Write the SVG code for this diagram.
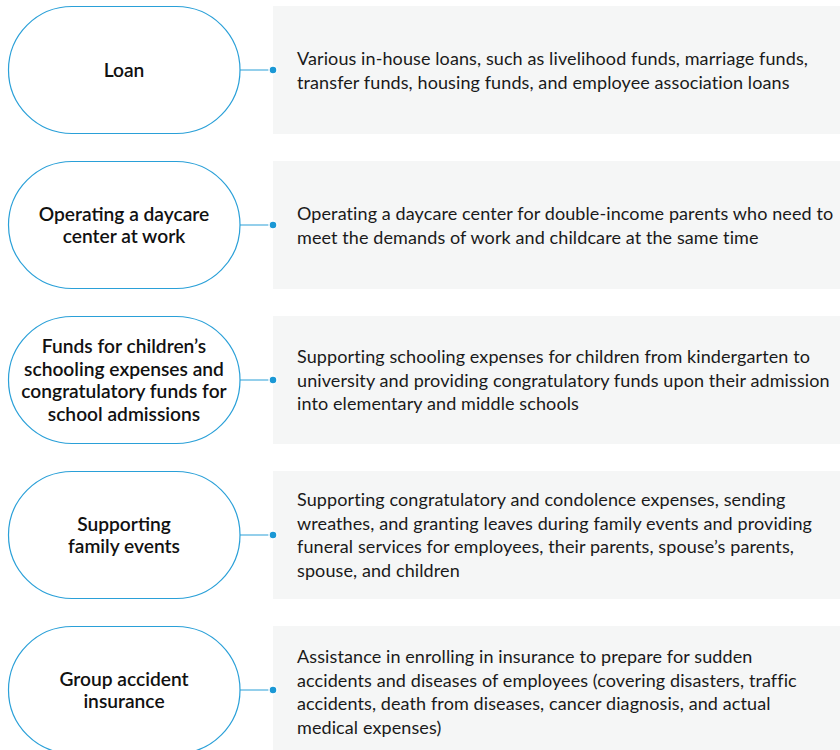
<svg xmlns="http://www.w3.org/2000/svg" width="840" height="750" viewBox="0 0 840 750">
<style>
.pill{fill:#fff;stroke:#2aa0d8;stroke-width:1.2}
.box{fill:#f5f6f6}
.lbl{font-family:Lato,"Noto Sans",sans-serif;font-size:19.2px;font-weight:600;fill:#111;text-anchor:middle}
.desc{font-family:Lato,"Noto Sans",sans-serif;font-size:18px;fill:#1a1a1a;letter-spacing:0.1px}
.conn{stroke:#2aa0d8;stroke-width:1.2;fill:none}
.dot{fill:#1a98d5;stroke:#fff;stroke-width:1.5}
</style>
<g id="boxes">
<rect class="box" x="273" y="6" width="567" height="128"/>
<rect class="box" x="273" y="161" width="567" height="128"/>
<rect class="box" x="273" y="316" width="567" height="128"/>
<rect class="box" x="273" y="471" width="567" height="128"/>
<rect class="box" x="273" y="626" width="567" height="124"/>
</g>
<g id="connectors">
<line class="conn" x1="240" y1="70" x2="273" y2="70"/>
<line class="conn" x1="240" y1="225" x2="273" y2="225"/>
<line class="conn" x1="240" y1="380" x2="273" y2="380"/>
<line class="conn" x1="240" y1="535" x2="273" y2="535"/>
<line class="conn" x1="240" y1="690" x2="273" y2="690"/>
<circle class="dot" cx="273" cy="70" r="4"/>
<circle class="dot" cx="273" cy="225" r="4"/>
<circle class="dot" cx="273" cy="380" r="4"/>
<circle class="dot" cx="273" cy="535" r="4"/>
<circle class="dot" cx="273" cy="690" r="4"/>
</g>
<g id="n1">
<rect class="pill" x="8.5" y="6.5" width="231.5" height="127" rx="63.5"/>
<text class="lbl" x="124" y="77">Loan</text>
<text class="desc" x="297"><tspan x="297" y="65">Various in-house loans, such as livelihood funds, marriage funds,</tspan><tspan x="297" y="88.5">transfer funds, housing funds, and employee association loans</tspan></text>
</g>
<g id="n2">
<rect class="pill" x="8.5" y="161.5" width="231.5" height="127" rx="63.5"/>
<text class="lbl"><tspan x="124" y="221">Operating a daycare</tspan><tspan x="124" y="243">center at work</tspan></text>
<text class="desc"><tspan x="297" y="220">Operating a daycare center for double-income parents who need to</tspan><tspan x="297" y="243.5">meet the demands of work and childcare at the same time</tspan></text>
</g>
<g id="n3">
<rect class="pill" x="8.5" y="316.5" width="231.5" height="127" rx="63.5"/>
<text class="lbl"><tspan x="124" y="353">Funds for children’s</tspan><tspan x="124" y="375.5">schooling expenses and</tspan><tspan x="124" y="398">congratulatory funds for</tspan><tspan x="124" y="420.5">school admissions</tspan></text>
<text class="desc"><tspan x="297" y="363">Supporting schooling expenses for children from kindergarten to</tspan><tspan x="297" y="386.5">university and providing congratulatory funds upon their admission</tspan><tspan x="297" y="410">into elementary and middle schools</tspan></text>
</g>
<g id="n4">
<rect class="pill" x="8.5" y="471.5" width="231.5" height="127" rx="63.5"/>
<text class="lbl"><tspan x="124" y="531">Supporting</tspan><tspan x="124" y="553">family events</tspan></text>
<text class="desc"><tspan x="297" y="506">Supporting congratulatory and condolence expenses, sending</tspan><tspan x="297" y="529.5">wreathes, and granting leaves during family events and providing</tspan><tspan x="297" y="553">funeral services for employees, their parents, spouse’s parents,</tspan><tspan x="297" y="576.5">spouse, and children</tspan></text>
</g>
<g id="n5">
<rect class="pill" x="8.5" y="626.5" width="231.5" height="127" rx="63.5"/>
<text class="lbl"><tspan x="124" y="686">Group accident</tspan><tspan x="124" y="708">insurance</tspan></text>
<text class="desc"><tspan x="297" y="663">Assistance in enrolling in insurance to prepare for sudden</tspan><tspan x="297" y="686.5">accidents and diseases of employees (covering disasters, traffic</tspan><tspan x="297" y="710">accidents, death from diseases, cancer diagnosis, and actual</tspan><tspan x="297" y="733.5">medical expenses)</tspan></text>
</g>
</svg>
